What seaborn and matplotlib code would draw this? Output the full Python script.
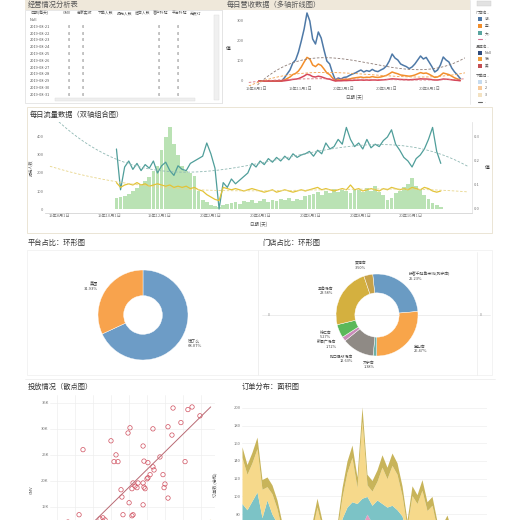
import numpy as np
import pandas as pd
import seaborn as sns
import matplotlib.pyplot as plt
from matplotlib.patches import Rectangle

W, H = 520, 520

# ---------------- data ----------------
# 经营情况分析表
table_cols = ['日期(每天)', 'GMV', '商家实收', '下单人数', '曝光人数', '进店人数', '客户补贴', '平台补贴', '无责订']
table_rows = ['Null', '2019-08-21', '2019-08-22', '2019-08-23', '2019-08-24', '2019-08-25',
              '2019-08-26', '2019-08-27', '2019-08-28', '2019-08-29', '2019-08-30', '2019-08-31']
table_filled = ['GMV', '商家实收', '客户补贴', '平台补贴']

# 每日营收数据 (6 day steps)
rev_start = '2019-08-05'
rev_names = ['湖滨店', '宝山店', '大宁店']
rev_blue = [0, 0, 0, 0, 0, 0, 0, 0,
            0, 15, 35, 55, 90, 105, 145, 200, 260, 340, 300, 210, 185, 245, 215, 155,
            100, 85, 40, 5, 15, 10, 18, 20, 28, 35, 40, 48, 55, 45, 52, 48,
            58, 50, 47, 55, 62, 75, 100, 135, 115, 105, 85, 78, 72, 62, 70, 85,
            105, 125, 110, 118, 95, 72, 45, 55, 80, 120, 105, 95, 65, 45, 30, 12]
rev_orange = [0, 0, 0, 0, 0, 0, 0, 0,
              0, 5, 12, 20, 32, 38, 50, 70, 95, 118, 110, 80, 72, 85, 78, 60,
              40, 32, 15, 2, 6, 4, 8, 8, 10, 14, 16, 18, 20, 17, 19, 18,
              22, 19, 18, 20, 24, 28, 36, 45, 40, 36, 30, 28, 26, 24, 26, 30,
              36, 42, 38, 40, 34, 26, 18, 20, 28, 40, 36, 32, 24, 16, 10, 4]
rev_red = [0, 0, 0, 0, 0, 0, 0, 0,
           0, 1, 3, 5, 8, 9, 12, 18, 25, 34, 30, 22, 20, 24, 21, 16,
           11, 9, 4, 0, 1, 1, 2, 2, 3, 3, 4, 4, 5, 4, 5, 4,
           5, 5, 4, 5, 6, 7, 9, 11, 10, 9, 8, 7, 7, 6, 7, 8,
           9, 11, 10, 10, 9, 7, 5, 5, 7, 10, 9, 8, 6, 4, 3, 1]
rev_tick_dates = ['2019-08-01', '2019-11-01', '2020-02-01', '2020-05-01', '2020-08-01']
rev_tick_labels = ['19年8月1日', '19年11月1日', '20年2月1日', '20年5月1日', '20年8月1日']

# 每日流量数据 (5 day steps)
traffic_start = '2019-10-09'
traffic_exposure = [60, 65, 70, 85, 100, 115, 140, 155, 180, 210, 240, 330, 400, 455, 360, 300,
                    240, 210, 200, 185, 100, 50, 40, 25, 15, 10, 20, 30, 35, 40, 30, 45,
                    40, 50, 35, 45, 55, 40, 50, 45, 55, 50, 60, 45, 55, 50, 70, 80,
                    85, 95, 80, 100, 90, 110, 95, 105, 100, 90, 110, 105, 95, 115, 100, 130,
                    95, 80, 50, 60, 90, 100, 120, 140, 170, 130, 110, 80, 55, 35, 20, 10]
traffic_enter = [0.25, 0.08, 0.175, 0.20, 0.165, 0.19, 0.16, 0.185, 0.17, 0.20, 0.15, 0.18,
                 0.195, 0.16, 0.14, 0.18, 0.165, 0.16, 0.19, 0.20, 0.21, 0.22, 0.275, 0.23,
                 0.17, 0.0, 0.11, 0.09, 0.125, 0.105, 0.12, 0.135, 0.15, 0.19, 0.175, 0.20,
                 0.185, 0.21, 0.195, 0.215, 0.20, 0.22, 0.205, 0.23, 0.215, 0.225, 0.23, 0.24,
                 0.22, 0.245, 0.23, 0.275, 0.25, 0.26, 0.29, 0.27, 0.34, 0.29, 0.26, 0.275,
                 0.25, 0.29, 0.255, 0.27, 0.26, 0.285, 0.30, 0.33, 0.27, 0.245, 0.215, 0.20,
                 0.175, 0.21, 0.225, 0.25, 0.29, 0.34, 0.24, 0.19]
traffic_order = [0.11, 0.09, 0.10, 0.105, 0.10, 0.11, 0.10, 0.105, 0.095, 0.10, 0.105, 0.10,
                 0.095, 0.10, 0.09, 0.095, 0.09, 0.095, 0.085, 0.09, 0.08, 0.075, 0.06, 0.05,
                 0.04, 0.035, 0.09, 0.085, 0.08, 0.085, 0.08, 0.075, 0.08, 0.085, 0.08, 0.075,
                 0.07, 0.075, 0.08, 0.07, 0.075, 0.08, 0.075, 0.07, 0.075, 0.08, 0.075, 0.08,
                 0.085, 0.09, 0.08, 0.085, 0.08, 0.075, 0.08, 0.085, 0.08, 0.10, 0.08, 0.085,
                 0.075, 0.08, 0.085, 0.08, 0.075, 0.085, 0.08, 0.09, 0.085, 0.08, 0.085, 0.08,
                 0.09, 0.085, 0.08, 0.09, 0.085, 0.075, 0.07, 0.075]
traffic_tick_dates = ['2019-08-01', '2019-10-01', '2019-12-01', '2020-02-01',
                      '2020-04-01', '2020-06-01', '2020-08-01', '2020-10-01']
traffic_tick_labels = ['19年8月1日', '19年10月1日', '19年12月1日', '20年2月1日',
                       '20年4月1日', '20年6月1日', '20年8月1日', '20年10月1日']

# 平台占比
platform_names = ['饿了么', '美团']
platform_share = [68.07, 31.93]

# 门店占比 (clockwise from top)
store_names = ['拼客千拌鱼米线(武宁店)', '宝山店', '大宁店', '虹口足球场店', '新闸广场店', '徐汇店', '五角场店', '黄浦店']
store_share = [25.23, 26.47, 1.38, 12.63, 1.72, 5.27, 23.58, 3.50]

# 投放情况 (推广费 vs GMV, K); the last points sit below the cropped edge
ad_cost = [244, 400, 495, 506, 634, 718, 746, 829, 852, 896, 790, 740, 579, 428, 417, 439, 584,
           606, 673, 813, 634, 640, 618, 606, 690, 601, 579, 551, 523, 534, 545, 517, 584, 590,
           701, 696, 456, 461, 501, 718, 579, 222, 467, 517, 523, 339, 355, 367, 160,
           120, 140, 165, 180, 200, 215, 235, 250, 265, 280, 295, 305, 320, 330, 345]
ad_gmv = [26.0, 27.7, 29.2, 30.2, 30.0, 30.4, 34.0, 33.7, 34.2, 32.5, 31.2, 28.8, 26.7, 25.0,
          23.7, 23.7, 23.8, 23.5, 24.6, 23.7, 22.7, 22.1, 21.2, 20.6, 21.2, 20.4, 19.6, 19.6,
          19.6, 19.0, 18.7, 18.5, 18.8, 18.5, 19.4, 18.7, 18.3, 16.9, 15.8, 16.7, 15.4, 13.5,
          13.5, 13.3, 13.5, 12.7, 12.9, 12.5, 12.1,
          3.0, 4.5, 5.0, 4.0, 6.5, 5.5, 7.0, 8.0, 7.5, 9.0, 8.5, 10.0, 9.5, 11.0, 10.5]
ad_cost_2 = [200, 300, 380, 450, 520, 600, 680, 760, 850, 920]
ad_gmv_2 = [6.0, 7.5, 7.0, 9.0, 8.5, 10.0, 11.0, 10.5, 11.5, 11.8]

# 订单分布 (weekly, stacked from bottom)
order_start = '2019-10-14'
order_pink = [55, 52, 56, 60, 48, 55, 50, 45, 38, 30, 28, 30, 26, 32, 35, 40, 36, 33, 30, 35,
              48, 55, 58, 60, 68, 80, 70, 66, 62, 60, 62, 58, 52, 42, 48, 46, 48, 44, 45, 38,
              36, 38, 32, 28, 25, 22, 20, 18, 16, 14]
order_teal = [37, 33, 39, 45, 28, 41, 30, 25, 17, 12, 10, 10, 9, 13, 15, 22, 16, 13, 12, 15,
              27, 33, 36, 32, 30, 20, 20, 30, 30, 28, 28, 27, 26, 16, 22, 20, 22, 18, 19, 14,
              14, 17, 13, 10, 10, 8, 8, 8, 6, 6]
order_yellow = [52, 40, 43, 49, 32, 15, 23, 16, 7, 6, 4, 5, 4, 7, 12, 26, 13, 7, 6, 10,
                24, 39, 50, 18, 87, 13, 16, 21, 41, 32, 45, 40, 23, 7, 31, 26, 37, 22, 26, 12,
                10, 15, 8, 6, 4, 5, 5, 4, 4, 4]
order_khaki = [12, 11, 12, 13, 11, 11, 10, 10, 8, 7, 6, 7, 6, 8, 8, 10, 8, 7, 7, 8,
               11, 13, 14, 12, 16, 12, 12, 13, 14, 13, 14, 13, 11, 8, 11, 10, 12, 10, 10, 8,
               8, 9, 7, 6, 6, 5, 5, 5, 4, 4]


def pos(x0, y0, x1, y1):
    return [x0 / W, 1 - y1 / H, (x1 - x0) / W, (y1 - y0) / H]


def tidy(ax):
    for s in ax.spines.values():
        s.set_visible(False)
    ax.tick_params(labelsize=3, length=0, pad=1, colors='#777777')
    ax.patch.set_alpha(0)


sns.set_theme(style='white')
plt.rcParams['font.family'] = ['Noto Sans CJK SC', 'DejaVu Sans']
plt.rcParams['axes.unicode_minus'] = False

fig = plt.figure(figsize=(W / 100, H / 100), dpi=100)
bg = fig.add_axes([0, 0, 1, 1])
bg.set_xlim(0, W)
bg.set_ylim(H, 0)
bg.axis('off')

# header band + panels
bg.add_patch(Rectangle((25, 0), 445, 10, fc='#efe8da', ec='none'))
bg.text(28, 5, '经营情况分析表', fontsize=5.2, color='#555555', va='center')
bg.text(227, 5, '每日营收数据（多轴折线图）', fontsize=5.2, color='#555555', va='center')
bg.add_patch(Rectangle((25, 10), 197, 93, fc='none', ec='#dddddd', lw=0.5))
bg.plot([222, 222], [10, 103], color='#e3e3e3', lw=0.5)
bg.plot([470, 470], [0, 104], color='#e3e3e3', lw=0.5)

# table
col_x = [30, 63, 77, 98, 117, 135, 153, 172, 190]
for cx, c in zip(col_x, table_cols):
    bg.text(cx, 13, c, fontsize=2.8, color='#555555', va='center')
for r, name in enumerate(table_rows):
    ry = 20 + r * 6.8
    bg.text(30, ry, name, fontsize=2.8, color='#555555', va='center')
    if name != 'Null':
        for c in table_filled:
            cx = col_x[table_cols.index(c)]
            bg.text(cx + 6, ry, '0', fontsize=2.8, color='#555555', va='center', ha='center')
bg.add_patch(Rectangle((214, 15), 5, 85, fc='#f0f0f0', ec='#dddddd', lw=0.3))
bg.add_patch(Rectangle((55, 98), 140, 3, fc='#eeeeee', ec='#dddddd', lw=0.3))

# legend of top chart
bg.add_patch(Rectangle((477, 1), 14, 5, fc='#e2e2e2', ec='#cccccc', lw=0.3))
legend_items = [
    (13, '门店名..', None, 'head'), (19, '湖..', '#4e79a7', 'box'), (26, '宝..', '#f28e2b', 'box'),
    (33, '大..', '#59a59f', 'box'), (39, '..', '#d37295', 'line'),
    (47, '品牌名..', None, 'head'), (53, 'Null', '#2f4b7c', 'box'), (59, '饿', '#f0a03c', 'box'),
    (66, '美', '#c44e52', 'box'),
    (76, '下单日..', None, 'head'), (82, '1', '#c6dbef', 'box'), (88, '2', '#f7c99a', 'box'),
    (95, '3', '#f3e2c2', 'box'), (102, '..', '#666666', 'line'),
]
for ly, txt, col, kind in legend_items:
    if kind == 'head':
        bg.text(476, ly, txt, fontsize=2.8, color='#555555', va='center')
    elif kind == 'box':
        bg.add_patch(Rectangle((478, ly - 2), 4, 4, fc=col, ec='none'))
        bg.text(485, ly, txt, fontsize=2.6, color='#555555', va='center')
    else:
        bg.plot([478, 482], [ly, ly], color=col, lw=0.8)
        bg.text(485, ly, txt, fontsize=2.6, color='#555555', va='center')

# middle panel
bg.add_patch(Rectangle((27, 107), 465, 126, fc='none', ec='#e8e0cf', lw=0.6))
bg.text(30, 115, '每日流量数据（双轴组合图）', fontsize=5.2, color='#333333', va='center')

# donut panels
bg.text(28, 243, '平台占比：环形图', fontsize=5.2, color='#333333', va='center')
bg.text(262, 243, '门店占比：环形图', fontsize=5.2, color='#333333', va='center')
bg.add_patch(Rectangle((27, 250), 231, 125, fc='none', ec='#eeeeee', lw=0.5))
bg.add_patch(Rectangle((258, 250), 234, 125, fc='none', ec='#eeeeee', lw=0.5))
bg.plot([262, 490], [315, 315], color='#e6e6e6', lw=0.5)
bg.plot([477, 477], [252, 375], color='#ececec', lw=0.5)
bg.text(268, 315, '0', fontsize=2.6, color='#888888', va='center')
bg.text(480, 315, '0', fontsize=2.6, color='#888888', va='center')
bg.plot([25, 495], [379, 379], color='#eeeeee', lw=0.6)

bg.text(28, 387, '投放情况（散点图）', fontsize=5.2, color='#333333', va='center')
bg.text(242, 387, '订单分布：面积图', fontsize=5.2, color='#333333', va='center')

# ---------------- 每日营收数据 ----------------
rev_dates = pd.date_range(rev_start, periods=len(rev_blue), freq='6D')
rev_colors = ['#4e79a7', '#f28e2b', '#d6475a']
rev_df = pd.DataFrame({'日期': rev_dates, rev_names[0]: rev_blue,
                       rev_names[1]: rev_orange, rev_names[2]: rev_red})
rev_long = rev_df.melt('日期', var_name='门店', value_name='值')
ax1 = fig.add_axes(pos(245, 11, 465, 86))
sns.lineplot(data=rev_long, x='日期', y='值', hue='门店', palette=rev_colors,
             lw=1.1, legend=False, ax=ax1)
t_days = (rev_dates - rev_dates[0]).days.values
trend_dates = pd.date_range('2019-07-15', '2020-10-14', freq='D')
trend_days = (trend_dates - rev_dates[0]).days.values
for vals, c in zip([rev_blue, rev_orange, rev_red], ['#8c7b75', '#f2a04a', '#d9707a']):
    coef = np.polyfit(t_days, vals, 3)
    ax1.plot(trend_dates, np.polyval(coef, trend_days), ls=(0, (3, 2)), lw=0.6, color=c)
ax1.set_xlim(pd.Timestamp('2019-07-07'), pd.Timestamp('2020-10-14'))
ax1.set_ylim(-25, 350)
ax1.set_xticks(pd.to_datetime(rev_tick_dates))
ax1.set_xticklabels(rev_tick_labels)
ax1.set_yticks([0, 100, 200, 300])
ax1.set_xlabel('日期 (天)', fontsize=3.2, color='#555555', labelpad=2)
ax1.set_ylabel('值', fontsize=3.5, color='#333333', rotation=0, labelpad=6, va='center')
tidy(ax1)

# ---------------- 每日流量数据 ----------------
tr_dates = pd.date_range(traffic_start, periods=len(traffic_exposure), freq='5D')
ax2 = fig.add_axes(pos(45, 122, 472, 213))
ax2.bar(tr_dates, traffic_exposure, width=4.6, color='#b3dfac', alpha=0.9, lw=0)
ax2.set_ylim(-22, 483)
ax2.set_yticks([0, 100, 200, 300, 400])
ax2.set_xlim(pd.Timestamp('2019-07-14'), pd.Timestamp('2020-12-15'))
ax2.set_xticks(pd.to_datetime(traffic_tick_dates))
ax2.set_xticklabels(traffic_tick_labels)
ax2.set_xlabel('日期 (天)', fontsize=3.2, color='#555555', labelpad=2)
ax2.set_ylabel('曝光人数', fontsize=3, color='#555555', labelpad=2)
tidy(ax2)
ax2.spines['bottom'].set_visible(True)
ax2.spines['bottom'].set_color('#cccccc')
ax2.spines['bottom'].set_linewidth(0.5)

ax2r = ax2.twinx()
sns.lineplot(x=tr_dates, y=traffic_enter, color='#4f9e9a', lw=0.9, ax=ax2r)
sns.lineplot(x=tr_dates, y=traffic_order, color='#e3c336', lw=0.9, ax=ax2r)
tr_days = (tr_dates - tr_dates[0]).days.values
tr_trend_dates = pd.date_range('2019-07-20', '2020-12-10', freq='D')
tr_trend_days = (tr_trend_dates - tr_dates[0]).days.values
for vals, c in zip([traffic_enter, traffic_order], ['#8fb8b3', '#e8d58a']):
    coef = np.polyfit(tr_days, vals, 3)
    ax2r.plot(tr_trend_dates, np.polyval(coef, tr_trend_days), ls=(0, (3, 2)), lw=0.6, color=c)
ax2r.set_ylim(-0.0167, 0.3625)
ax2r.set_yticks([0, 0.1, 0.2, 0.3])
ax2r.set_yticklabels(['0.0', '0.1', '0.2', '0.3'])
ax2r.set_ylabel('值', fontsize=3.5, color='#333333', rotation=0, labelpad=6, va='center')
ax2r.set_xlim(pd.Timestamp('2019-07-14'), pd.Timestamp('2020-12-15'))
tidy(ax2r)
ax2r.spines['right'].set_visible(True)
ax2r.spines['right'].set_color('#dddddd')
ax2r.spines['right'].set_linewidth(0.5)

# ---------------- 平台占比 ----------------
ax3 = fig.add_axes(pos(98, 270, 188, 360))
ax3.pie(platform_share, labels=[f'{n}\n{s:.2f}%' for n, s in zip(platform_names, platform_share)],
        colors=['#6d9cc6', '#f8a34d'], startangle=90, counterclock=False,
        wedgeprops=dict(width=0.57, edgecolor='white', linewidth=0.3),
        labeldistance=1.18, textprops=dict(fontsize=3, color='#444444'))
ax3.set_xlim(-1, 1)
ax3.set_ylim(-1, 1)

# ---------------- 门店占比 ----------------
ax4 = fig.add_axes(pos(336, 274, 418, 356))
ax4.pie(store_share, labels=[f'{n}\n{s:.2f}%' for n, s in zip(store_names, store_share)],
        colors=['#6a9bc3', '#f8a54a', '#6fb1a6', '#8f8a85', '#c98bb9', '#5bb85a', '#d4b03f', '#c7a24a'],
        startangle=96, counterclock=False,
        wedgeprops=dict(width=0.46, edgecolor='white', linewidth=0.3),
        labeldistance=1.22, textprops=dict(fontsize=2.8, color='#444444'))
ax4.set_xlim(-1, 1)
ax4.set_ylim(-1, 1)

# ---------------- 投放情况 ----------------
ax5 = fig.add_axes(pos(50, 395, 215, 585))
sns.regplot(x=ad_cost_2, y=ad_gmv_2, ci=None, truncate=False, ax=ax5,
            scatter_kws=dict(facecolors='none', s=9, linewidths=0.5),
            line_kws=dict(lw=0.7), color='#d9b84a')
sns.regplot(x=ad_cost, y=ad_gmv, ci=None, truncate=False, ax=ax5,
            scatter_kws=dict(facecolors='none', s=10, linewidths=0.5, alpha=1),
            line_kws=dict(lw=0.7, color='#b96a74'), color='#d0505f')
ax5.set_xlim(60, 980)
ax5.set_ylim(0, 36.5)
ax5.set_xticks(range(100, 1000, 100))
ax5.set_xticklabels([])
ax5.set_yticks([15, 20, 25, 30, 35])
ax5.set_yticklabels(['15K', '20K', '25K', '30K', '35K'])
ax5.set_ylabel('GMV', fontsize=3, color='#555555', labelpad=3)
ax5.yaxis.set_label_coords(-0.1, 0.5)
tidy(ax5)
ax5.grid(True, color='#eeeeee', lw=0.5)

# ---------------- 订单分布 ----------------
order_dates = pd.date_range(order_start, periods=len(order_pink), freq='7D')
ax6 = fig.add_axes(pos(242, 399, 487, 585))
ax6.stackplot(order_dates, order_pink, order_teal, order_yellow, order_khaki,
              colors=['#e79bc0', '#7cc3c6', '#f6d98b', '#c8b45a'], lw=0)
ax6.set_xlim(order_dates[0], order_dates[-1])
ax6.set_ylim(0, 210)
ax6.set_yticks(range(80, 201, 20))
ax6.set_xticklabels([])
ax6.set_ylabel('订单数 (总和)', fontsize=3, color='#555555')
ax6.yaxis.set_label_coords(-0.1, 0.54)
tidy(ax6)
ax6.grid(True, axis='y', color='#eeeeee', lw=0.5)

fig.savefig('out.png', dpi=100)
